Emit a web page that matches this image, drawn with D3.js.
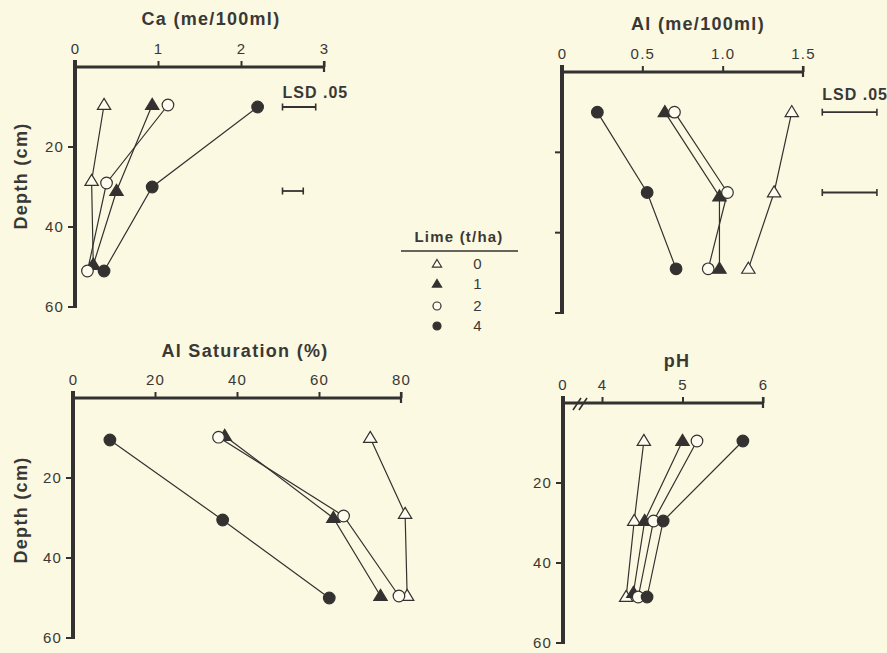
<!DOCTYPE html>
<html>
<head>
<meta charset="utf-8">
<script src="https://cdn.jsdelivr.net/npm/d3@7"></script>
<style>
  html, body { margin: 0; padding: 0; background: #fbf9e2; }
  svg { display: block; }
  text { font-family: "Liberation Sans", Arial, Helvetica, sans-serif; fill: #3a3835; }
</style>
</head>
<body>
<svg id="chart" width="887" height="653"></svg>
<script>
// Lime rates (t/ha) and their marker styles
const limeRates = ["0", "1", "2", "4"];
const markerShape = ["triangle", "triangle", "circle", "circle"];
const markerFilled = [false, true, false, true];

// Sampling depths (cm) per lime rate, read per panel
// Ca (me/100ml)
const caDepth = [[9.5, 28.5, 49.5], [9.5, 31, 49.5], [9.5, 29, 51], [10, 30, 51]];
const caValues = [[0.35, 0.20, 0.22], [0.93, 0.50, 0.22], [1.12, 0.38, 0.15], [2.20, 0.93, 0.35]];
const caLsd = [{ depth: 10, lo: 2.5, hi: 2.9 }, { depth: 31, lo: 2.5, hi: 2.75 }];

// Al (me/100ml)
const alDepth = [[10, 30, 49], [10, 31, 49], [10, 30, 49], [10, 30, 49]];
const alValues = [[1.43, 1.32, 1.16], [0.64, 0.98, 0.98], [0.70, 1.03, 0.91], [0.22, 0.53, 0.71]];
const alLsd = [{ depth: 10, lo: 1.62, hi: 1.96 }, { depth: 30, lo: 1.62, hi: 1.96 }];

// Al saturation (%)
const satDepth = [[10, 29, 49.5], [9.5, 30, 49.5], [9.8, 29.5, 49.5], [10.5, 30.5, 50]];
const satValues = [[72.5, 81, 81.5], [37, 63.5, 75], [35.5, 66, 79.5], [9, 36.5, 62.5]];

// pH
const phDepth = [[9.5, 29.5, 48.5], [9.5, 29.5, 47.5], [9.5, 29.5, 48.5], [9.5, 29.5, 48.5]];
const phValues = [[4.52, 4.40, 4.30], [5.00, 4.53, 4.39], [5.18, 4.64, 4.45], [5.75, 4.76, 4.56]];

// Tick labels
const caTicks = [0, 1, 2, 3];
const alTicks = [0, 0.5, 1.0, 1.5];
const alTickLabels = ["0", "0.5", "1.0", "1.5"];
const satTicks = [0, 20, 40, 60, 80];
const phTicks = [4, 5, 6];
const depthTicks = [20, 40, 60];

const ink = "#343230";
const paper = "#fdfcee";
const svg = d3.select("#chart");

function drawMarker(g, shape, filled, x, y, size) {
  if (shape === "circle") {
    g.append("circle").attr("cx", x).attr("cy", y).attr("r", size)
      .attr("fill", filled ? ink : paper).attr("stroke", ink).attr("stroke-width", 1.2);
  } else {
    const h = size * 1.9, w = size * 2.3;
    const pts = [[x, y - h * 0.6], [x + w / 2, y + h * 0.4], [x - w / 2, y + h * 0.4]];
    g.append("path").attr("d", d3.line()(pts) + "Z")
      .attr("fill", filled ? ink : paper).attr("stroke", ink).attr("stroke-width", 1.2)
      .attr("stroke-linejoin", "miter");
  }
}

function label(g, x, y, txt, size, bold, anchor) {
  return g.append("text").attr("x", x).attr("y", y)
    .attr("text-anchor", anchor || "middle").attr("font-size", size)
    .attr("font-weight", bold ? "bold" : "normal")
    .attr("letter-spacing", bold ? 1.3 : 1.2).text(txt);
}

function panel(opts) {
  const g = svg.append("g");
  const x = d3.scaleLinear().domain(opts.xDomain).range(opts.xRange);
  const y = d3.scaleLinear().domain([0, 60]).range(opts.yRange);
  const x0 = opts.axisStart;
  const yTop = y(0);

  // title
  label(g, opts.titleX, opts.titleY, opts.title, 18, true);

  // x axis labels and ticks via d3 axis
  const xAxis = d3.axisTop(x).tickValues(opts.xTicks).tickSize(6).tickPadding(7)
    .tickFormat((d, i) => opts.xTickLabels ? opts.xTickLabels[i] : d3.format("d")(d));
  const ax = g.append("g").attr("transform", `translate(0,${yTop})`).call(xAxis);
  ax.select(".domain").remove();
  ax.selectAll(".tick line").attr("stroke", ink).attr("stroke-width", 2);
  ax.selectAll("text").attr("font-size", 15).attr("fill", "#3a3835")
    .attr("letter-spacing", 1.2)
    .attr("font-family", "'Liberation Sans', Arial, sans-serif");
  if (opts.zeroLabel) {
    label(g, x0, yTop - 13, "0", 15, false);
  }

  // x axis line + right end tick
  g.append("line").attr("x1", x0).attr("x2", x.range()[1]).attr("y1", yTop).attr("y2", yTop)
    .attr("stroke", ink).attr("stroke-width", 3);
  g.append("line").attr("x1", x.range()[1]).attr("x2", x.range()[1]).attr("y1", yTop - 6).attr("y2", yTop + 5)
    .attr("stroke", ink).attr("stroke-width", 2.2);

  if (opts.axisBreak) {
    [0, 6].forEach(off => {
      g.append("line").attr("x1", x0 + 10 + off).attr("y1", yTop + 7)
        .attr("x2", x0 + 18 + off).attr("y2", yTop - 5)
        .attr("stroke", ink).attr("stroke-width", 1.6);
    });
  }

  // y axis
  g.append("line").attr("x1", x0).attr("x2", x0).attr("y1", yTop - 7).attr("y2", y(60) + 1)
    .attr("stroke", ink).attr("stroke-width", 4);
  depthTicks.forEach(d => {
    g.append("line").attr("x1", x0 - 7).attr("x2", x0).attr("y1", y(d)).attr("y2", y(d))
      .attr("stroke", ink).attr("stroke-width", 2);
    if (opts.yLabels) {
      label(g, x0 - 11, y(d), d, 15, false, "end").attr("dy", "0.36em");
    }
  });
  if (opts.depthTitle) {
    label(g, 0, 0, "Depth (cm)", 18, true)
      .attr("transform", `translate(${opts.depthTitleX},${opts.depthTitleY}) rotate(-90)`);
  }

  // series lines
  const line = d3.line().x(p => x(p[0])).y(p => y(p[1]));
  opts.values.forEach((vals, i) => {
    const pts = vals.map((v, j) => [v, opts.depths[i][j]]);
    g.append("path").attr("d", line(pts)).attr("fill", "none")
      .attr("stroke", ink).attr("stroke-width", 1.2);
  });
  // markers drawn after lines
  opts.values.forEach((vals, i) => {
    vals.forEach((v, j) => {
      drawMarker(g, markerShape[i], markerFilled[i], x(v), y(opts.depths[i][j]), 5.8);
    });
  });

  // LSD bars
  if (opts.lsd) {
    label(g, x(opts.lsd[0].lo), opts.lsdTextY, "LSD .05", 16, true, "start").attr("letter-spacing", 1);
    opts.lsd.forEach(b => {
      const yy = y(b.depth);
      g.append("line").attr("x1", x(b.lo)).attr("x2", x(b.hi)).attr("y1", yy).attr("y2", yy)
        .attr("stroke", ink).attr("stroke-width", 1.8);
      [b.lo, b.hi].forEach(e => g.append("line").attr("x1", x(e)).attr("x2", x(e))
        .attr("y1", yy - 3.5).attr("y2", yy + 3.5).attr("stroke", ink).attr("stroke-width", 1.6));
    });
  }
}

panel({
  title: "Ca (me/100ml)", titleX: 211, titleY: 25,
  xDomain: [0, 3], xRange: [75, 324], axisStart: 75, yRange: [67, 307],
  xTicks: caTicks, values: caValues, depths: caDepth,
  yLabels: true, depthTitle: true, depthTitleX: 27, depthTitleY: 176,
  lsd: caLsd, lsdTextY: 98
});

panel({
  title: "Al (me/100ml)", titleX: 698, titleY: 30,
  xDomain: [0, 1.5], xRange: [562, 803], axisStart: 562, yRange: [72, 313],
  xTicks: alTicks, xTickLabels: alTickLabels, values: alValues, depths: alDepth,
  yLabels: false, depthTitle: false,
  lsd: alLsd, lsdTextY: 100
});

panel({
  title: "Al Saturation (%)", titleX: 245, titleY: 357,
  xDomain: [0, 80], xRange: [73, 401], axisStart: 73, yRange: [398, 638],
  xTicks: satTicks, values: satValues, depths: satDepth,
  yLabels: true, depthTitle: true, depthTitleX: 27, depthTitleY: 510
});

panel({
  title: "pH", titleX: 677, titleY: 367,
  xDomain: [4, 6], xRange: [602, 763], axisStart: 563, yRange: [403, 643],
  xTicks: phTicks, values: phValues, depths: phDepth, zeroLabel: true, axisBreak: true,
  yLabels: true, depthTitle: false
});

// Legend
const lg = svg.append("g");
label(lg, 459, 242, "Lime (t/ha)", 15, true).attr("letter-spacing", 1.2);
lg.append("line").attr("x1", 401).attr("x2", 518).attr("y1", 251).attr("y2", 251)
  .attr("stroke", ink).attr("stroke-width", 1.3);
const legendY = [264, 284, 306, 326];
limeRates.forEach((r, i) => {
  drawMarker(lg, markerShape[i], markerFilled[i], 437, legendY[i], 4);
  label(lg, 478, legendY[i], r, 15, false).attr("dy", "0.36em");
});
</script>
</body>
</html>
